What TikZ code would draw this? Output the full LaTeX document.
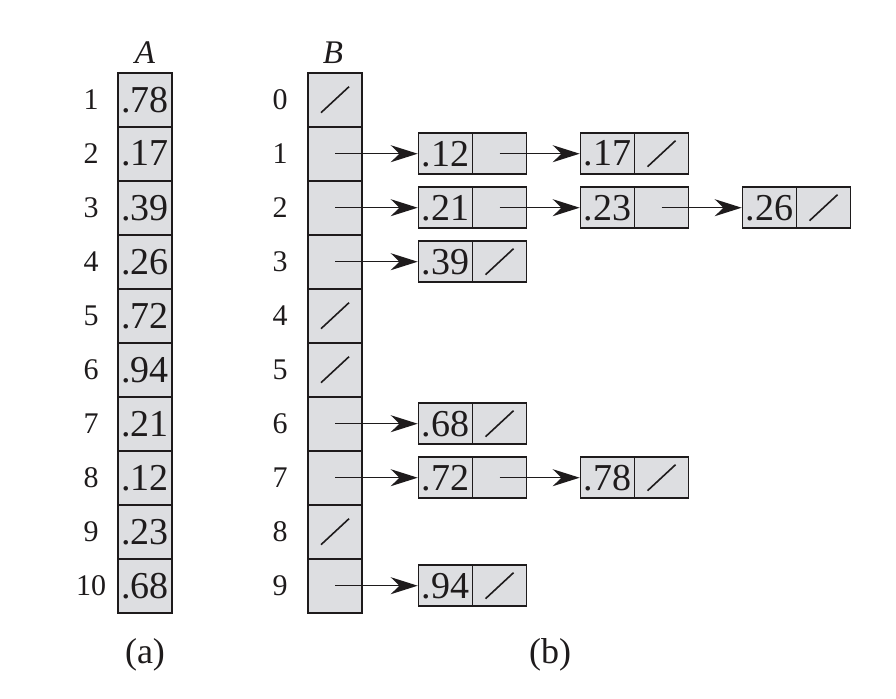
\documentclass[tikz,border=0pt]{standalone}
\usepackage{fontspec}
\setmainfont{Liberation Serif}
\usetikzlibrary{arrows.meta}
\definecolor{cellfill}{RGB}{221,222,225}
\definecolor{ink}{RGB}{30,27,28}
\newcommand{\valfont}{\fontsize{19}{20}\selectfont}
\newcommand{\idxfont}{\fontsize{15}{17}\selectfont}
\newcommand{\lblfont}{\fontsize{16.5}{18}\selectfont}
\newcommand{\capfont}{\fontsize{18}{19}\selectfont}
\begin{document}
\begin{tikzpicture}[x=0.5pt,y=-0.5pt,
  cell/.style={draw=ink, fill=cellfill, line width=0.8pt, minimum width=27pt, minimum height=27pt, inner sep=0pt, font=\valfont, text=ink},
  half/.style={cell, minimum height=20.5pt},
  idx/.style={font=\idxfont, text=ink},
  ptr/.style={-{Stealth[length=13.5pt,width=8.5pt]}, line width=0.75pt, draw=ink},
  nil/.style={line width=0.8pt, draw=ink}]
\useasboundingbox (0,0) rectangle (896,698);
% array A
\foreach \v [count=\i] in {78,17,39,26,72,94,21,12,23,68} {
  \node[cell] (a\i) at (145,{99.7+54*(\i-1)}) {.\v};
  \node[idx] (ai\i) at (91,{99.7+54*(\i-1)}) {\i};
}
% array B
\foreach \i in {0,...,9} {
  \node[cell] (b\i) at (335,{99.7+54*\i}) {};
  \node[idx] (bi\i) at (280,{99.7+54*\i}) {\i};
}
\node[font=\lblfont\itshape, text=ink] (labA) at (145,53) {A};
\node[font=\lblfont\itshape, text=ink] (labB) at (333,53) {B};
\node[font=\capfont, text=ink] (capa) at (145,655) {(a)};
\node[font=\capfont, text=ink] (capb) at (550,655) {(b)};
% list node macro: name, left x, row, value
\newcommand{\lnode}[4]{%
  \node[half] (#1k) at ({#2+27},{99.7+54*#3}) {.#4};
  \node[half] (#1p) at ({#2+81},{99.7+54*#3}) {};}
\newcommand{\nilslash}[1]{\draw[nil] ([shift={(-14,13)}]#1.center) -- ([shift={(14,-13)}]#1.center);}
% row 1
\lnode{r1c1}{418.5}{1}{12}
\lnode{r1c2}{580.5}{1}{17}
% row 2
\lnode{r2c1}{418.5}{2}{21}
\lnode{r2c2}{580.5}{2}{23}
\lnode{r2c3}{742.5}{2}{26}
% row 3
\lnode{r3c1}{418.5}{3}{39}
% row 6
\lnode{r6c1}{418.5}{6}{68}
% row 7
\lnode{r7c1}{418.5}{7}{72}
\lnode{r7c2}{580.5}{7}{78}
% row 9
\lnode{r9c1}{418.5}{9}{94}
% pointers
\draw[ptr] (b1.center) -- (r1c1k.west);
\draw[ptr] (r1c1p.center) -- (r1c2k.west);
\draw[ptr] (b2.center) -- (r2c1k.west);
\draw[ptr] (r2c1p.center) -- (r2c2k.west);
\draw[ptr] (r2c2p.center) -- (r2c3k.west);
\draw[ptr] (b3.center) -- (r3c1k.west);
\draw[ptr] (b6.center) -- (r6c1k.west);
\draw[ptr] (b7.center) -- (r7c1k.west);
\draw[ptr] (r7c1p.center) -- (r7c2k.west);
\draw[ptr] (b9.center) -- (r9c1k.west);
% nil slashes
\nilslash{b0}
\nilslash{b4}
\nilslash{b5}
\nilslash{b8}
\nilslash{r1c2p}
\nilslash{r2c3p}
\nilslash{r3c1p}
\nilslash{r6c1p}
\nilslash{r7c2p}
\nilslash{r9c1p}
\end{tikzpicture}
\end{document}
